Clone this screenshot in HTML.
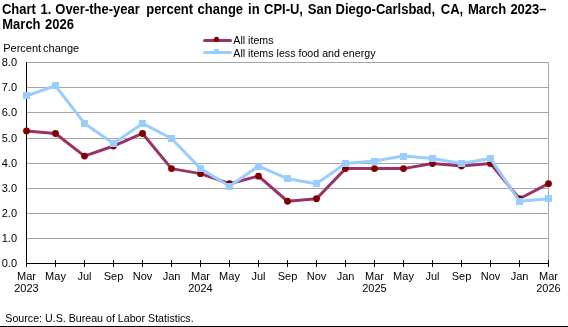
<!DOCTYPE html>
<html><head><meta charset="utf-8"><style>
html,body{margin:0;padding:0;background:#fff;width:568px;height:327px;overflow:hidden}
svg{display:block;will-change:transform}
</style></head><body>
<svg width="568" height="327" viewBox="0 0 568 327">
<line x1="27" y1="238.5" x2="549" y2="238.5" stroke="#a6a6a6" stroke-width="1"/>
<line x1="27" y1="213.5" x2="549" y2="213.5" stroke="#a6a6a6" stroke-width="1"/>
<line x1="27" y1="188.5" x2="549" y2="188.5" stroke="#a6a6a6" stroke-width="1"/>
<line x1="27" y1="163.5" x2="549" y2="163.5" stroke="#a6a6a6" stroke-width="1"/>
<line x1="27" y1="138.5" x2="549" y2="138.5" stroke="#a6a6a6" stroke-width="1"/>
<line x1="27" y1="112.5" x2="549" y2="112.5" stroke="#a6a6a6" stroke-width="1"/>
<line x1="27" y1="87.5" x2="549" y2="87.5" stroke="#a6a6a6" stroke-width="1"/>
<line x1="27" y1="62.5" x2="549" y2="62.5" stroke="#a6a6a6" stroke-width="1"/>
<line x1="548.5" y1="62" x2="548.5" y2="263" stroke="#a6a6a6" stroke-width="1"/>
<text x="17" y="266.5" text-anchor="end" font-size="11" font-family="Liberation Sans, sans-serif">0.0</text>
<text x="17" y="241.5" text-anchor="end" font-size="11" font-family="Liberation Sans, sans-serif">1.0</text>
<text x="17" y="216.5" text-anchor="end" font-size="11" font-family="Liberation Sans, sans-serif">2.0</text>
<text x="17" y="191.5" text-anchor="end" font-size="11" font-family="Liberation Sans, sans-serif">3.0</text>
<text x="17" y="166.5" text-anchor="end" font-size="11" font-family="Liberation Sans, sans-serif">4.0</text>
<text x="17" y="141.5" text-anchor="end" font-size="11" font-family="Liberation Sans, sans-serif">5.0</text>
<text x="17" y="115.5" text-anchor="end" font-size="11" font-family="Liberation Sans, sans-serif">6.0</text>
<text x="17" y="90.5" text-anchor="end" font-size="11" font-family="Liberation Sans, sans-serif">7.0</text>
<text x="17" y="65.5" text-anchor="end" font-size="11" font-family="Liberation Sans, sans-serif">8.0</text>
<line x1="26" y1="263.5" x2="549" y2="263.5" stroke="#000" stroke-width="1"/>
<line x1="26.5" y1="260" x2="26.5" y2="267" stroke="#000" stroke-width="1"/>
<text x="26.5" y="280" text-anchor="middle" font-size="11" font-family="Liberation Sans, sans-serif">Mar</text>
<text x="26.5" y="291.7" text-anchor="middle" font-size="11" font-family="Liberation Sans, sans-serif">2023</text>
<line x1="55.5" y1="260" x2="55.5" y2="267" stroke="#000" stroke-width="1"/>
<text x="55.5" y="280" text-anchor="middle" font-size="11" font-family="Liberation Sans, sans-serif">May</text>
<line x1="84.5" y1="260" x2="84.5" y2="267" stroke="#000" stroke-width="1"/>
<text x="84.5" y="280" text-anchor="middle" font-size="11" font-family="Liberation Sans, sans-serif">Jul</text>
<line x1="113.5" y1="260" x2="113.5" y2="267" stroke="#000" stroke-width="1"/>
<text x="113.5" y="280" text-anchor="middle" font-size="11" font-family="Liberation Sans, sans-serif">Sep</text>
<line x1="142.5" y1="260" x2="142.5" y2="267" stroke="#000" stroke-width="1"/>
<text x="142.5" y="280" text-anchor="middle" font-size="11" font-family="Liberation Sans, sans-serif">Nov</text>
<line x1="171.5" y1="260" x2="171.5" y2="267" stroke="#000" stroke-width="1"/>
<text x="171.5" y="280" text-anchor="middle" font-size="11" font-family="Liberation Sans, sans-serif">Jan</text>
<line x1="200.5" y1="260" x2="200.5" y2="267" stroke="#000" stroke-width="1"/>
<text x="200.5" y="280" text-anchor="middle" font-size="11" font-family="Liberation Sans, sans-serif">Mar</text>
<text x="200.5" y="291.7" text-anchor="middle" font-size="11" font-family="Liberation Sans, sans-serif">2024</text>
<line x1="229.5" y1="260" x2="229.5" y2="267" stroke="#000" stroke-width="1"/>
<text x="229.5" y="280" text-anchor="middle" font-size="11" font-family="Liberation Sans, sans-serif">May</text>
<line x1="258.5" y1="260" x2="258.5" y2="267" stroke="#000" stroke-width="1"/>
<text x="258.5" y="280" text-anchor="middle" font-size="11" font-family="Liberation Sans, sans-serif">Jul</text>
<line x1="287.5" y1="260" x2="287.5" y2="267" stroke="#000" stroke-width="1"/>
<text x="287.5" y="280" text-anchor="middle" font-size="11" font-family="Liberation Sans, sans-serif">Sep</text>
<line x1="316.5" y1="260" x2="316.5" y2="267" stroke="#000" stroke-width="1"/>
<text x="316.5" y="280" text-anchor="middle" font-size="11" font-family="Liberation Sans, sans-serif">Nov</text>
<line x1="345.5" y1="260" x2="345.5" y2="267" stroke="#000" stroke-width="1"/>
<text x="345.5" y="280" text-anchor="middle" font-size="11" font-family="Liberation Sans, sans-serif">Jan</text>
<line x1="374.5" y1="260" x2="374.5" y2="267" stroke="#000" stroke-width="1"/>
<text x="374.5" y="280" text-anchor="middle" font-size="11" font-family="Liberation Sans, sans-serif">Mar</text>
<text x="374.5" y="291.7" text-anchor="middle" font-size="11" font-family="Liberation Sans, sans-serif">2025</text>
<line x1="403.5" y1="260" x2="403.5" y2="267" stroke="#000" stroke-width="1"/>
<text x="403.5" y="280" text-anchor="middle" font-size="11" font-family="Liberation Sans, sans-serif">May</text>
<line x1="432.5" y1="260" x2="432.5" y2="267" stroke="#000" stroke-width="1"/>
<text x="432.5" y="280" text-anchor="middle" font-size="11" font-family="Liberation Sans, sans-serif">Jul</text>
<line x1="461.5" y1="260" x2="461.5" y2="267" stroke="#000" stroke-width="1"/>
<text x="461.5" y="280" text-anchor="middle" font-size="11" font-family="Liberation Sans, sans-serif">Sep</text>
<line x1="490.5" y1="260" x2="490.5" y2="267" stroke="#000" stroke-width="1"/>
<text x="490.5" y="280" text-anchor="middle" font-size="11" font-family="Liberation Sans, sans-serif">Nov</text>
<line x1="519.5" y1="260" x2="519.5" y2="267" stroke="#000" stroke-width="1"/>
<text x="519.5" y="280" text-anchor="middle" font-size="11" font-family="Liberation Sans, sans-serif">Jan</text>
<line x1="548.5" y1="260" x2="548.5" y2="267" stroke="#000" stroke-width="1"/>
<text x="548.5" y="280" text-anchor="middle" font-size="11" font-family="Liberation Sans, sans-serif">Mar</text>
<text x="548.5" y="291.7" text-anchor="middle" font-size="11" font-family="Liberation Sans, sans-serif">2026</text>
<line x1="26.5" y1="62" x2="26.5" y2="264" stroke="#000" stroke-width="1"/>
<polyline points="26.5,130.97 55.5,133.48 84.5,156.07 113.5,146.03 142.5,133.48 171.5,168.62 200.5,173.64 229.5,183.68 258.5,176.15 287.5,201.25 316.5,198.74 345.5,168.62 374.5,168.62 403.5,168.62 432.5,163.60 461.5,166.11 490.5,163.60 519.5,198.74 548.5,183.68" fill="none" stroke="#993366" stroke-width="3" stroke-linejoin="round" stroke-linecap="round"/>
<circle cx="26.5" cy="130.97" r="3.4" fill="#800000"/>
<circle cx="55.5" cy="133.48" r="3.4" fill="#800000"/>
<circle cx="84.5" cy="156.07" r="3.4" fill="#800000"/>
<circle cx="113.5" cy="146.03" r="3.4" fill="#800000"/>
<circle cx="142.5" cy="133.48" r="3.4" fill="#800000"/>
<circle cx="171.5" cy="168.62" r="3.4" fill="#800000"/>
<circle cx="200.5" cy="173.64" r="3.4" fill="#800000"/>
<circle cx="229.5" cy="183.68" r="3.4" fill="#800000"/>
<circle cx="258.5" cy="176.15" r="3.4" fill="#800000"/>
<circle cx="287.5" cy="201.25" r="3.4" fill="#800000"/>
<circle cx="316.5" cy="198.74" r="3.4" fill="#800000"/>
<circle cx="345.5" cy="168.62" r="3.4" fill="#800000"/>
<circle cx="374.5" cy="168.62" r="3.4" fill="#800000"/>
<circle cx="403.5" cy="168.62" r="3.4" fill="#800000"/>
<circle cx="432.5" cy="163.60" r="3.4" fill="#800000"/>
<circle cx="461.5" cy="166.11" r="3.4" fill="#800000"/>
<circle cx="490.5" cy="163.60" r="3.4" fill="#800000"/>
<circle cx="519.5" cy="198.74" r="3.4" fill="#800000"/>
<circle cx="548.5" cy="183.68" r="3.4" fill="#800000"/>
<polyline points="26.5,95.83 55.5,85.79 84.5,123.44 113.5,143.52 142.5,123.44 171.5,138.50 200.5,168.62 229.5,186.19 258.5,166.11 287.5,178.66 316.5,183.68 345.5,163.60 374.5,161.09 403.5,156.07 432.5,158.58 461.5,163.60 490.5,158.58 519.5,201.25 548.5,198.74" fill="none" stroke="#99ccff" stroke-width="3" stroke-linejoin="round" stroke-linecap="round"/>
<rect x="23.0" y="92" width="7" height="7" fill="#99ccff"/>
<rect x="52.0" y="82" width="7" height="7" fill="#99ccff"/>
<rect x="81.0" y="120" width="7" height="7" fill="#99ccff"/>
<rect x="110.0" y="140" width="7" height="7" fill="#99ccff"/>
<rect x="139.0" y="120" width="7" height="7" fill="#99ccff"/>
<rect x="168.0" y="135" width="7" height="7" fill="#99ccff"/>
<rect x="197.0" y="165" width="7" height="7" fill="#99ccff"/>
<rect x="226.0" y="183" width="7" height="7" fill="#99ccff"/>
<rect x="255.0" y="163" width="7" height="7" fill="#99ccff"/>
<rect x="284.0" y="175" width="7" height="7" fill="#99ccff"/>
<rect x="313.0" y="180" width="7" height="7" fill="#99ccff"/>
<rect x="342.0" y="160" width="7" height="7" fill="#99ccff"/>
<rect x="371.0" y="158" width="7" height="7" fill="#99ccff"/>
<rect x="400.0" y="153" width="7" height="7" fill="#99ccff"/>
<rect x="429.0" y="155" width="7" height="7" fill="#99ccff"/>
<rect x="458.0" y="160" width="7" height="7" fill="#99ccff"/>
<rect x="487.0" y="155" width="7" height="7" fill="#99ccff"/>
<rect x="516.0" y="198" width="7" height="7" fill="#99ccff"/>
<rect x="545.0" y="195" width="7" height="7" fill="#99ccff"/>
<line x1="204.5" y1="40.5" x2="230.5" y2="40.5" stroke="#993366" stroke-width="3" stroke-linecap="round"/>
<circle cx="216.5" cy="39.3" r="2.6" fill="#800000"/>
<text x="233.3" y="43.8" font-size="10.67" font-family="Liberation Sans, sans-serif">All items</text>
<line x1="204.5" y1="52.5" x2="230.5" y2="52.5" stroke="#99ccff" stroke-width="3" stroke-linecap="round"/>
<rect x="214" y="49" width="5" height="4" fill="#99ccff"/>
<text x="233.3" y="56.7" font-size="10.67" font-family="Liberation Sans, sans-serif">All items less food and energy</text>
<text transform="translate(1.9 13.8) scale(1 1.08)" font-size="13" font-weight="bold" font-family="Liberation Sans, sans-serif">Chart</text>
<text transform="translate(40.5 13.8) scale(1 1.08)" font-size="13" font-weight="bold" font-family="Liberation Sans, sans-serif">1.</text>
<text transform="translate(55.3 13.8) scale(1 1.08)" font-size="13" font-weight="bold" font-family="Liberation Sans, sans-serif">Over-the-year</text>
<text transform="translate(146.2 13.8) scale(1 1.08)" font-size="13" font-weight="bold" font-family="Liberation Sans, sans-serif">percent</text>
<text transform="translate(197.6 13.8) scale(1 1.08)" font-size="13" font-weight="bold" font-family="Liberation Sans, sans-serif">change</text>
<text transform="translate(248.1 13.8) scale(1 1.08)" font-size="13" font-weight="bold" font-family="Liberation Sans, sans-serif">in</text>
<text transform="translate(264.0 13.8) scale(1 1.08)" font-size="13" font-weight="bold" font-family="Liberation Sans, sans-serif">CPI-U,</text>
<text transform="translate(307.8 13.8) scale(1 1.08)" font-size="13" font-weight="bold" font-family="Liberation Sans, sans-serif">San</text>
<text transform="translate(335.5 13.8) scale(1 1.08)" font-size="13" font-weight="bold" font-family="Liberation Sans, sans-serif">Diego-Carlsbad,</text>
<text transform="translate(440.8 13.8) scale(1 1.08)" font-size="13" font-weight="bold" font-family="Liberation Sans, sans-serif">CA,</text>
<text transform="translate(467.9 13.8) scale(1 1.08)" font-size="13" font-weight="bold" font-family="Liberation Sans, sans-serif">March</text>
<text transform="translate(510.4 13.8) scale(1 1.08)" font-size="13" font-weight="bold" font-family="Liberation Sans, sans-serif">2023–</text>
<text transform="translate(2.3 29.4) scale(1 1.08)" font-size="13" font-weight="bold" font-family="Liberation Sans, sans-serif">March</text>
<text transform="translate(45.0 29.4) scale(1 1.08)" font-size="13" font-weight="bold" font-family="Liberation Sans, sans-serif">2026</text>
<text x="3.2" y="51.7" font-size="11" font-family="Liberation Sans, sans-serif">Percent</text>
<text x="43.1" y="51.7" font-size="11" font-family="Liberation Sans, sans-serif">change</text>
<text x="5.3" y="322" font-size="10.67" font-family="Liberation Sans, sans-serif">Source: U.S. Bureau of Labor Statistics.</text>
<rect x="0" y="326" width="568" height="1" fill="#000"/>
</svg>
</body></html>
